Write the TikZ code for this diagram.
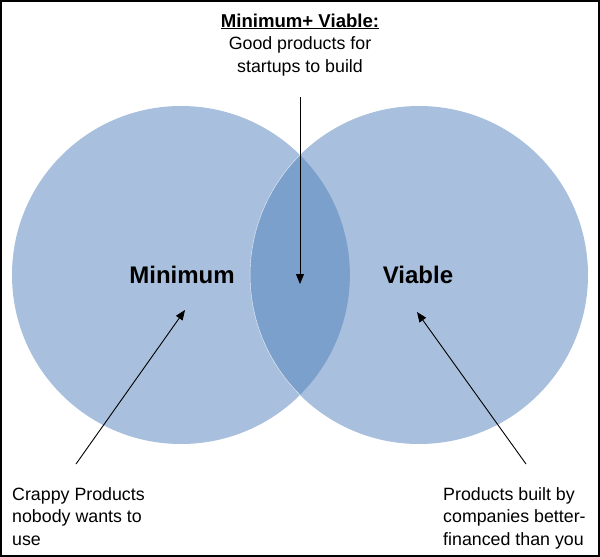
\documentclass[tikz,border=0pt]{standalone}
\usepackage{fontspec}
\setmainfont{Liberation Sans}
\usetikzlibrary{arrows.meta}
\definecolor{circfill}{HTML}{A8C0DD}
\definecolor{lensfill}{HTML}{7BA0CC}
\tikzset{
  venn/.style={circle, fill=circfill, minimum size=338pt, inner sep=0pt},
  biglabel/.style={font=\fontsize{24}{28}\selectfont\bfseries, inner sep=0pt},
  note/.style={font=\fontsize{17.8}{22.5}\selectfont, align=left, inner sep=0pt},
  topnote/.style={font=\fontsize{17.8}{22.5}\selectfont, align=center, inner sep=0pt},
  pointer/.style={-{Triangle[length=10pt,width=8pt]}, line width=0.9pt, black},
}
\begin{document}
\begin{tikzpicture}[x=1pt,y=-1pt]
\useasboundingbox (0,0) rectangle (600,557);
\draw[line width=2.2pt] (1.1,1.1) rectangle (598.9,555.9);
\node[venn] (L) at (181,275) {};
\node[venn] (R) at (419,275) {};
\fill[lensfill] (300,155) arc[start angle=225.2, end angle=134.8, radius=169] arc[start angle=45.2, end angle=-45.2, radius=169] -- cycle;
\draw[white, line width=0.4pt, opacity=0.8] (300,155) arc[start angle=225.2, end angle=134.8, radius=169];
\node[biglabel, anchor=base] (min) at (182,283) {Minimum};
\node[biglabel, anchor=base] (via) at (418,283) {Viable};
\node[topnote, anchor=base] (top) at (300,72) {{\fontsize{18.6}{22.5}\selectfont\bfseries\underline{Minimum+ Viable:}}\\Good products for\\startups to build};
\node[note, anchor=base west] (crap) at (12,545) {Crappy Products\\nobody wants to\\use};
\node[note, anchor=base west] (fin) at (443,545) {Products built by\\companies better-\\financed than you};
\coordinate (topstart) at (300,97);
\coordinate (toptip) at (300,284);
\coordinate (lstart) at (76,464);
\coordinate (ltip) at (185,310);
\coordinate (rstart) at (526,464);
\coordinate (rtip) at (417,312);
\draw[pointer] (topstart) -- (toptip);
\draw[pointer] (lstart) -- (ltip);
\draw[pointer] (rstart) -- (rtip);
\end{tikzpicture}
\end{document}
